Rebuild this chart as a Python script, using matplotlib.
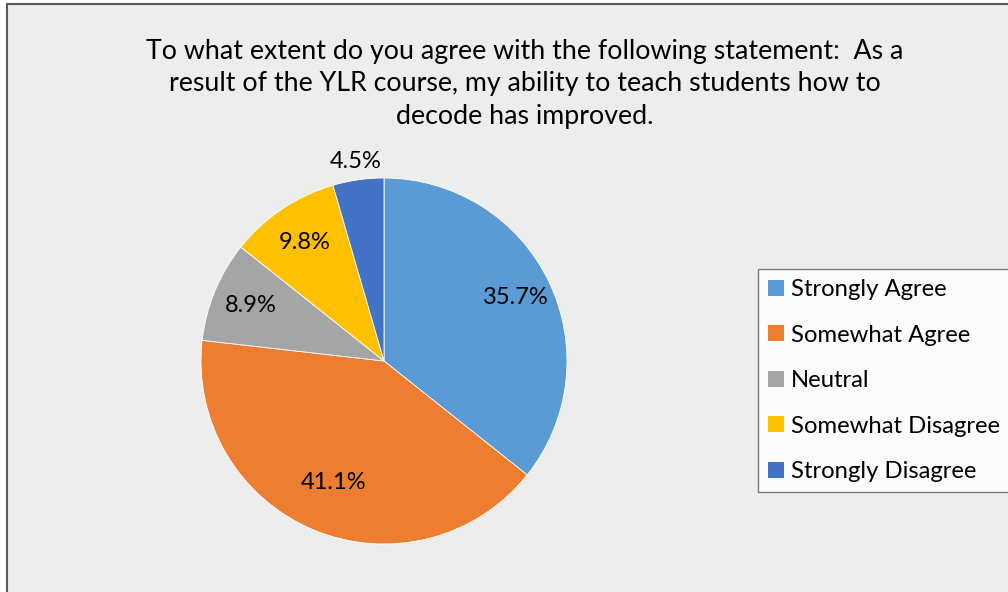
import numpy as np
import matplotlib.pyplot as plt
from matplotlib.patches import Rectangle, Patch

title = "To what extent do you agree with the following statement:  As a\nresult of the YLR course, my ability to teach students how to\ndecode has improved."
categories = ["Strongly Agree", "Somewhat Agree", "Neutral", "Somewhat Disagree", "Strongly Disagree"]
values = [35.7, 41.1, 8.9, 9.8, 4.5]
colors = ["#5B9BD5", "#ED7D31", "#A5A5A5", "#FFC000", "#4472C4"]
label_dist = [0.80, 0.72, 0.79, 0.78, 1.10]

plt.rcParams['font.family'] = ['Lato', 'DejaVu Sans']

W, H = 1008, 592
fig = plt.figure(figsize=(W / 100, H / 100), dpi=100)
fig.patch.set_facecolor("white")

# chart area background + border (cut off on right/bottom like the screenshot)
bg = Rectangle((7 / W, -0.1), 1.2, 1 - 4 / H + 0.1, transform=fig.transFigure,
               facecolor="#EDEDED", edgecolor="#5A5A5A", linewidth=1.5, zorder=-10)
fig.patches.append(bg)

fig.text(525 / W, 1 - 84 / H, title, ha="center", va="center", fontsize=19.3,
         linespacing=1.38, color="#000000")

cx, cy, r = 384, 361, 183
ax = fig.add_axes([(cx - r) / W, (H - cy - r) / H, 2 * r / W, 2 * r / H])
ax.set_facecolor("none")
wedges, _ = ax.pie(values, colors=colors, startangle=90, counterclock=False,
                   wedgeprops=dict(edgecolor="white", linewidth=0.6))
ax.set_xlim(-1, 1)
ax.set_ylim(-1, 1)
ax.set_aspect("equal")
ax.axis("off")

for w, v, d in zip(wedges, values, label_dist):
    ang = np.deg2rad((w.theta1 + w.theta2) / 2)
    ax.text(d * np.cos(ang), d * np.sin(ang), f"{v:.1f}%", ha="center", va="center",
            fontsize=17, color="#000000", clip_on=False)

handles = [Patch(facecolor=c, edgecolor="none") for c in colors]
leg = fig.legend(handles, categories, loc="upper left", bbox_to_anchor=(758 / W, 1 - 269 / H),
                 fontsize=17.2, frameon=True, fancybox=False, handlelength=0.65, handleheight=0.65,
                 handletextpad=0.3, labelspacing=1.03, borderpad=0.42, borderaxespad=0)
leg.get_frame().set_edgecolor("#5A5A5A")
leg.get_frame().set_facecolor("white")
leg.get_frame().set_linewidth(1.0)

fig.savefig("out.png", dpi=100)
